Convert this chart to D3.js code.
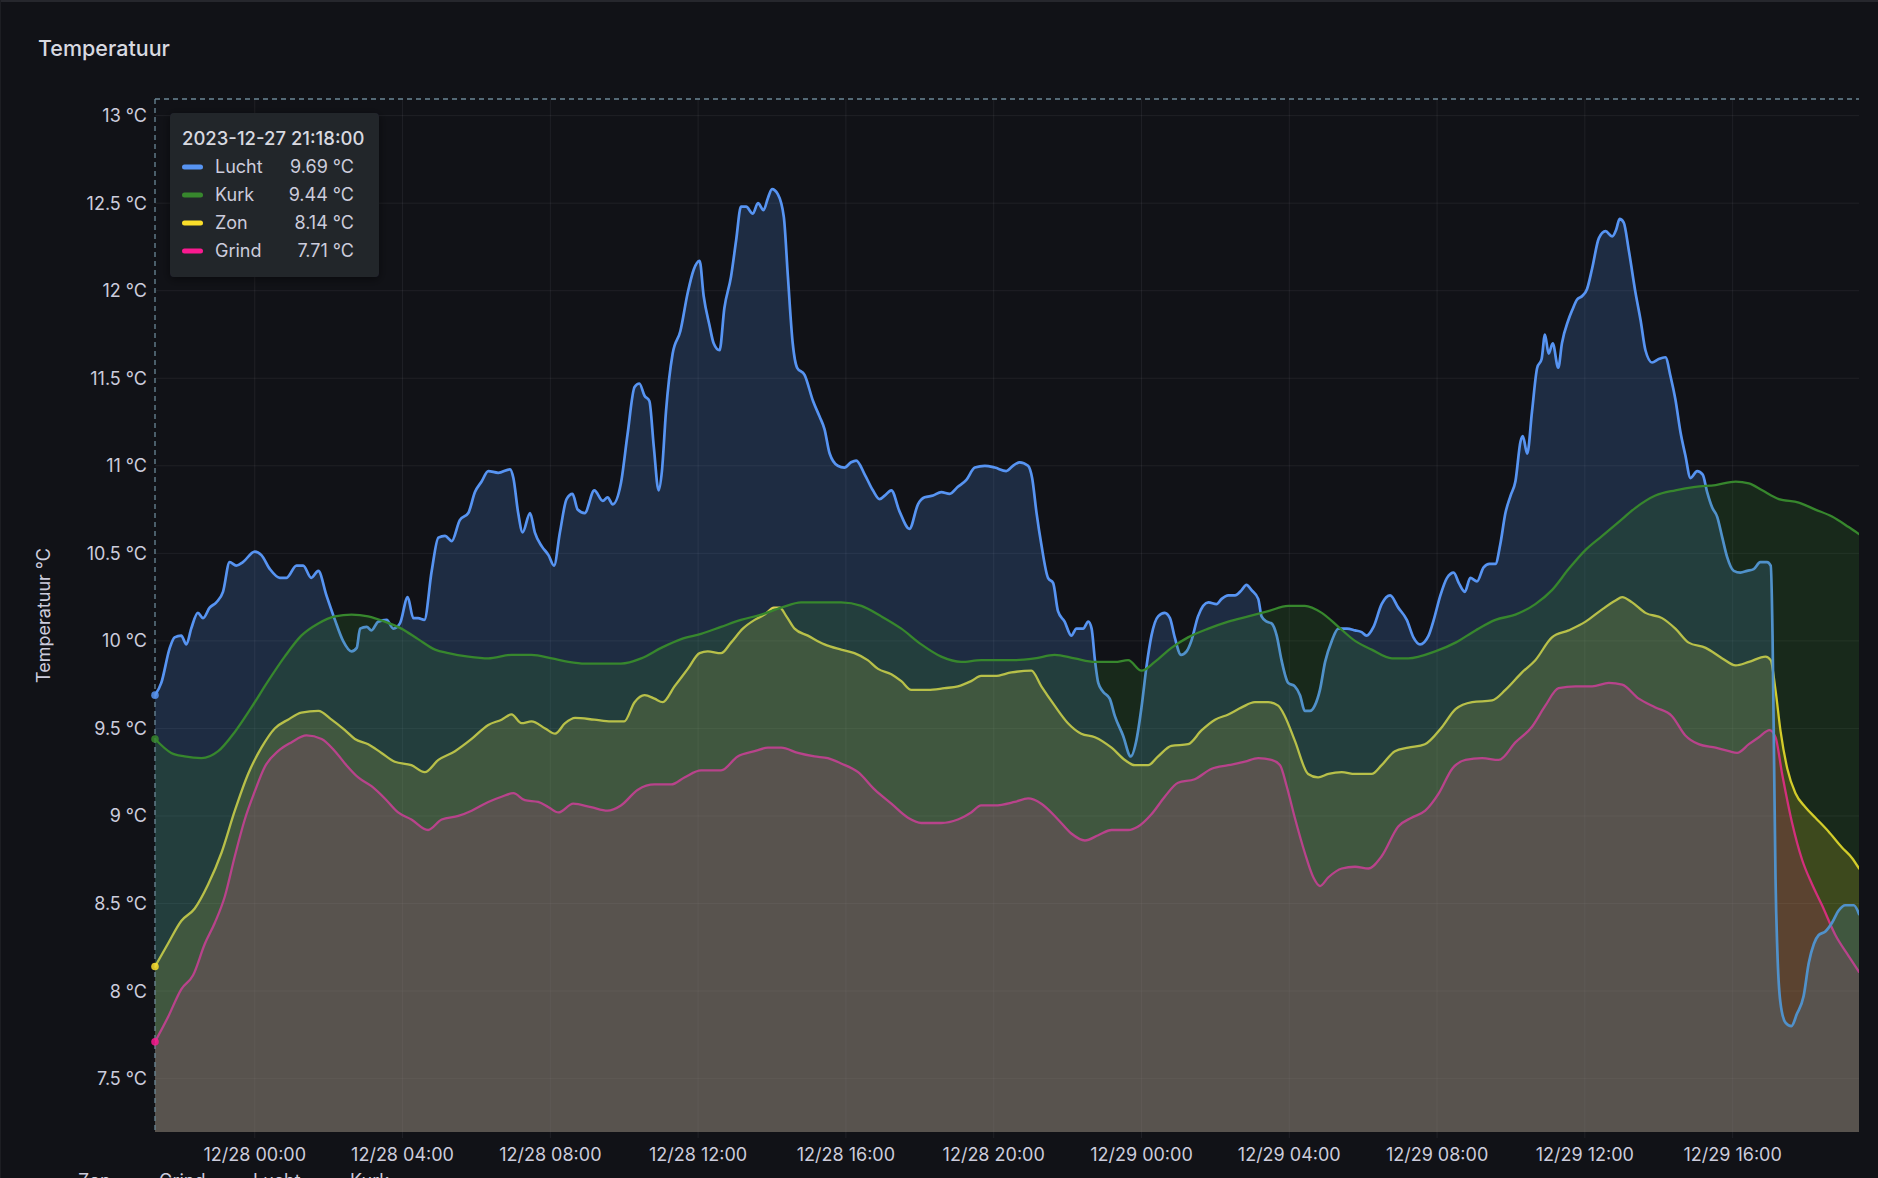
<!DOCTYPE html>
<html>
<head>
<meta charset="utf-8">
<script src="https://cdn.jsdelivr.net/npm/d3@7"></script>
<style>
  html, body { margin: 0; padding: 0; background: #111217; overflow: hidden; }
  svg { display: block; }
  text { font-family: Inter, "Noto Sans", "DejaVu Sans", sans-serif; }
</style>
</head>
<body>
<svg id="chart" width="1878" height="1178"></svg>
<script>
// ---------------- DATA (hours relative to 2023-12-28 00:00) ----------------
const seriesNames = ["Zon", "Grind", "Lucht", "Kurk"];
const tooltipOrder = ["Lucht", "Kurk", "Zon", "Grind"];
const tooltipTime = "2023-12-27 21:18:00";
const startHour = -2.7;     // 12/27 21:18
const endHour = 43.42;      // 12/29 19:25
const yTicks = [7.5, 8, 8.5, 9, 9.5, 10, 10.5, 11, 11.5, 12, 12.5, 13];
const yMin = 7.195, yMax = 13.095;

const luchtHours = [-2.70,-2.53,-2.30,-2.17,-1.99,-1.85,-1.72,-1.54,-1.40,-1.22,-1.04,-0.86,-0.68,-0.50,-0.32,0.00,0.18,0.41,0.68,0.86,1.13,1.31,1.53,1.72,1.94,2.17,2.39,2.62,2.76,2.85,3.03,3.16,3.34,3.57,3.75,3.93,4.14,4.29,4.42,4.59,4.79,4.97,5.15,5.33,5.55,5.78,5.96,6.14,6.32,6.59,6.91,7.00,7.13,7.25,7.45,7.58,7.77,7.95,8.10,8.26,8.44,8.60,8.74,8.93,9.19,9.42,9.55,9.69,9.91,10.09,10.28,10.41,10.55,10.68,10.80,10.93,11.02,11.13,11.31,11.52,11.72,11.88,12.04,12.15,12.31,12.42,12.58,12.71,12.89,13.03,13.16,13.30,13.48,13.62,13.77,13.89,14.00,14.16,14.32,14.43,14.56,14.68,14.88,15.11,15.29,15.42,15.56,15.78,15.96,16.14,16.28,16.51,16.73,16.91,17.05,17.23,17.45,17.72,17.95,18.13,18.36,18.58,18.81,19.03,19.26,19.49,19.76,20.03,20.34,20.52,20.70,20.93,21.04,21.16,21.29,21.47,21.61,21.74,21.92,22.10,22.24,22.42,22.56,22.65,22.74,22.83,22.96,23.14,23.28,23.50,23.71,23.86,24.00,24.14,24.27,24.45,24.63,24.77,24.90,25.07,25.22,25.35,25.53,25.81,26.03,26.17,26.35,26.53,26.71,26.84,26.98,27.16,27.25,27.39,27.52,27.66,27.79,27.97,28.15,28.29,28.42,28.56,28.69,28.83,28.97,29.15,29.33,29.56,29.78,29.96,30.09,30.28,30.50,30.73,30.95,31.18,31.36,31.54,31.77,31.91,32.09,32.27,32.45,32.59,32.75,32.90,33.08,33.26,33.42,33.58,33.71,33.85,33.99,34.12,34.26,34.32,34.44,34.57,34.71,34.83,34.92,35.02,35.13,35.28,35.38,35.55,35.66,35.79,35.93,36.06,36.20,36.38,36.56,36.74,36.85,36.94,37.05,37.19,37.37,37.51,37.64,37.82,38.00,38.18,38.32,38.45,38.59,38.72,38.86,39.04,39.19,39.31,39.45,39.58,39.72,39.85,40.03,40.21,40.39,40.57,40.75,40.93,41.03,41.08,41.12,41.16,41.21,41.29,41.43,41.59,41.74,41.92,42.06,42.20,42.33,42.51,42.69,42.87,43.05,43.28,43.42];
const luchtValues = [9.69,9.76,9.96,10.02,10.03,9.98,10.07,10.16,10.13,10.19,10.22,10.28,10.45,10.43,10.45,10.51,10.49,10.41,10.36,10.36,10.43,10.43,10.36,10.40,10.26,10.12,10.00,9.94,9.96,10.07,10.08,10.06,10.11,10.12,10.07,10.10,10.25,10.13,10.13,10.12,10.40,10.59,10.60,10.57,10.69,10.73,10.85,10.91,10.97,10.96,10.98,10.93,10.73,10.62,10.73,10.62,10.54,10.49,10.43,10.62,10.81,10.84,10.75,10.73,10.86,10.80,10.82,10.78,10.90,11.18,11.45,11.47,11.40,11.37,11.11,10.86,10.97,11.31,11.64,11.77,11.99,12.12,12.17,11.97,11.80,11.70,11.66,11.90,12.08,12.29,12.48,12.48,12.44,12.50,12.46,12.53,12.58,12.55,12.42,12.08,11.70,11.56,11.52,11.37,11.28,11.21,11.07,11.00,10.99,11.02,11.03,10.95,10.86,10.81,10.83,10.86,10.74,10.64,10.78,10.82,10.83,10.85,10.84,10.88,10.92,10.99,11.00,10.99,10.97,11.00,11.02,11.00,10.93,10.73,10.55,10.36,10.33,10.17,10.11,10.03,10.07,10.07,10.11,10.07,9.89,9.76,9.71,9.67,9.57,9.46,9.34,9.43,9.62,9.86,10.03,10.14,10.16,10.13,10.02,9.92,9.94,10.00,10.14,10.22,10.21,10.24,10.26,10.26,10.29,10.32,10.29,10.24,10.14,10.11,10.10,10.03,9.89,9.76,9.74,9.69,9.60,9.60,9.63,9.72,9.88,10.00,10.07,10.07,10.06,10.05,10.03,10.08,10.21,10.26,10.19,10.12,10.02,9.98,10.03,10.12,10.26,10.36,10.39,10.33,10.28,10.36,10.34,10.42,10.44,10.44,10.55,10.73,10.83,10.91,11.14,11.17,11.07,11.31,11.56,11.61,11.75,11.64,11.70,11.56,11.70,11.83,11.89,11.95,11.97,12.01,12.13,12.30,12.34,12.31,12.35,12.41,12.39,12.23,11.99,11.83,11.66,11.59,11.61,11.62,11.51,11.38,11.19,11.06,10.93,10.97,10.95,10.85,10.76,10.71,10.59,10.48,10.40,10.39,10.40,10.41,10.45,10.45,10.43,10.03,9.34,8.65,8.23,7.94,7.82,7.80,7.87,7.97,8.16,8.27,8.32,8.34,8.39,8.46,8.49,8.49,8.44];

const kurkHours = [-2.70,-2.26,-1.90,-1.44,-0.99,-0.54,-0.09,0.36,0.81,1.26,1.72,2.17,2.62,3.07,3.52,3.97,4.42,4.88,5.24,5.78,6.32,6.95,7.49,8.04,8.49,8.94,9.91,10.46,11.00,11.54,12.08,12.62,13.16,13.71,14.25,14.79,15.33,15.87,16.42,16.96,17.50,18.04,18.58,19.12,19.66,20.57,21.11,21.65,22.19,22.74,23.28,23.64,24.00,24.36,24.81,25.26,25.81,26.35,26.89,27.43,27.97,28.42,28.88,29.33,29.78,30.23,30.78,31.22,31.95,32.50,33.04,33.58,34.12,34.66,35.11,35.56,36.02,36.47,36.92,37.37,37.91,38.45,38.99,39.54,40.08,40.44,40.80,41.25,41.79,42.24,42.69,43.14,43.42];
const kurkValues = [9.44,9.36,9.34,9.33,9.37,9.48,9.62,9.77,9.91,10.03,10.10,10.14,10.15,10.14,10.11,10.07,10.01,9.95,9.93,9.91,9.90,9.92,9.92,9.90,9.88,9.87,9.87,9.90,9.96,10.01,10.04,10.08,10.12,10.15,10.19,10.22,10.22,10.22,10.20,10.14,10.07,9.98,9.91,9.88,9.89,9.89,9.90,9.92,9.90,9.88,9.88,9.89,9.83,9.88,9.96,10.02,10.07,10.11,10.14,10.17,10.20,10.20,10.16,10.08,10.00,9.95,9.90,9.90,9.94,9.99,10.06,10.12,10.15,10.21,10.29,10.41,10.52,10.60,10.68,10.76,10.83,10.86,10.88,10.89,10.91,10.90,10.86,10.81,10.79,10.75,10.71,10.65,10.61];

const zonHours = [-2.70,-2.35,-1.99,-1.63,-1.26,-0.90,-0.54,-0.18,0.18,0.54,0.90,1.26,1.72,2.08,2.44,2.71,3.07,3.43,3.79,4.24,4.60,4.97,5.42,5.87,6.32,6.68,6.95,7.22,7.49,7.86,8.13,8.40,8.67,9.19,9.64,10.00,10.28,10.55,10.82,11.04,11.36,11.72,12.04,12.26,12.62,12.89,13.21,13.53,13.80,14.05,14.21,14.39,14.61,14.97,15.42,15.87,16.23,16.59,16.87,17.23,17.50,17.77,18.22,18.67,19.03,19.39,19.66,20.03,20.48,21.02,21.29,21.65,22.01,22.37,22.74,23.19,23.55,23.82,24.18,24.45,24.81,25.26,25.63,25.99,26.35,26.71,27.07,27.43,27.70,27.88,28.15,28.51,28.78,29.06,29.42,29.78,30.23,30.50,30.86,31.22,31.67,32.14,32.50,32.95,33.49,33.85,34.30,34.66,35.11,35.56,36.02,36.47,36.83,37.01,37.28,37.64,38.09,38.45,38.81,39.27,39.72,40.08,40.44,40.89,41.03,41.16,41.30,41.48,41.70,41.97,42.24,42.60,42.96,43.23,43.42];
const zonValues = [8.14,8.27,8.40,8.47,8.61,8.79,9.03,9.24,9.39,9.50,9.55,9.59,9.60,9.55,9.49,9.44,9.41,9.36,9.31,9.29,9.25,9.32,9.37,9.44,9.52,9.55,9.58,9.53,9.54,9.50,9.47,9.53,9.56,9.55,9.54,9.54,9.65,9.69,9.67,9.65,9.74,9.84,9.93,9.94,9.93,9.99,10.07,10.12,10.15,10.19,10.19,10.14,10.07,10.03,9.98,9.95,9.93,9.89,9.84,9.81,9.77,9.72,9.72,9.73,9.74,9.77,9.80,9.80,9.82,9.83,9.74,9.63,9.53,9.47,9.45,9.39,9.32,9.29,9.29,9.34,9.40,9.41,9.49,9.55,9.58,9.62,9.65,9.65,9.63,9.57,9.43,9.24,9.22,9.24,9.25,9.24,9.24,9.29,9.37,9.39,9.41,9.51,9.61,9.65,9.66,9.72,9.82,9.89,10.02,10.06,10.11,10.18,10.23,10.25,10.22,10.16,10.13,10.07,9.99,9.96,9.90,9.86,9.88,9.91,9.89,9.72,9.48,9.27,9.13,9.05,8.99,8.91,8.82,8.76,8.70];

const grindHours = [-2.70,-2.35,-1.99,-1.67,-1.35,-1.08,-0.81,-0.54,-0.27,0.00,0.27,0.63,0.99,1.40,1.81,2.17,2.48,2.80,3.16,3.52,3.88,4.24,4.69,5.06,5.51,5.87,6.32,6.68,7.00,7.31,7.67,7.95,8.22,8.62,9.10,9.55,9.91,10.37,10.82,11.27,11.63,12.08,12.62,13.07,13.53,13.89,14.25,14.70,15.15,15.51,15.87,16.33,16.78,17.23,17.68,18.04,18.58,19.03,19.39,19.66,20.03,20.57,20.93,21.29,21.74,22.10,22.47,22.83,23.19,23.64,23.91,24.27,24.63,24.99,25.44,25.90,26.35,26.80,27.16,27.52,27.75,27.93,28.15,28.42,28.65,28.83,29.06,29.42,29.78,30.14,30.50,30.95,31.31,31.68,32.05,32.41,32.77,33.22,33.67,34.12,34.57,34.93,35.29,35.75,36.20,36.65,37.01,37.46,37.91,38.36,38.72,39.08,39.54,39.90,40.12,40.44,40.71,41.00,41.16,41.34,41.61,41.88,42.15,42.42,42.78,43.14,43.42];
const grindValues = [7.71,7.85,8.01,8.09,8.27,8.39,8.54,8.77,8.98,9.14,9.28,9.37,9.42,9.46,9.44,9.37,9.29,9.22,9.17,9.10,9.02,8.98,8.92,8.98,9.00,9.03,9.08,9.11,9.13,9.09,9.08,9.05,9.02,9.07,9.05,9.03,9.06,9.15,9.18,9.18,9.22,9.26,9.26,9.34,9.37,9.39,9.39,9.36,9.34,9.33,9.30,9.25,9.15,9.07,8.99,8.96,8.96,8.98,9.02,9.06,9.06,9.08,9.10,9.07,8.98,8.90,8.86,8.89,8.92,8.92,8.94,9.01,9.11,9.19,9.21,9.27,9.29,9.31,9.33,9.32,9.29,9.17,8.99,8.79,8.65,8.60,8.65,8.70,8.71,8.70,8.77,8.94,8.99,9.03,9.13,9.27,9.32,9.33,9.32,9.42,9.51,9.63,9.73,9.74,9.74,9.76,9.75,9.67,9.62,9.57,9.46,9.41,9.39,9.37,9.36,9.41,9.45,9.49,9.45,9.24,8.96,8.75,8.61,8.49,8.32,8.20,8.11];

const seriesColors = { Lucht: "#5794F2", Kurk: "#37872D", Zon: "#FADE2A", Grind: "#FA1A90" };

// ---------------- CHART ----------------
const W = 1878, H = 1178;
const M = { left: 155, right: 1859, top: 99, bottom: 1132 };
const BASE = Date.UTC(2023, 11, 28, 0, 0, 0);
const toDate = h => new Date(BASE + h * 3600e3);

const series = {
  Lucht: luchtHours.map((h, i) => ({ t: toDate(h), v: luchtValues[i] })),
  Kurk: kurkHours.map((h, i) => ({ t: toDate(h), v: kurkValues[i] })),
  Zon: zonHours.map((h, i) => ({ t: toDate(h), v: zonValues[i] })),
  Grind: grindHours.map((h, i) => ({ t: toDate(h), v: grindValues[i] }))
};

const x = d3.scaleUtc().domain([toDate(startHour), toDate(endHour)]).range([M.left, M.right]);
const y = d3.scaleLinear().domain([yMin, yMax]).range([M.bottom, M.top]);

const svg = d3.select("#chart");
svg.append("rect").attr("width", W).attr("height", H).attr("fill", "#111217");
// panel border hints
svg.append("rect").attr("x", 0).attr("y", 0).attr("width", W).attr("height", 2).attr("fill", "#26272d");
svg.append("rect").attr("x", 0).attr("y", 0).attr("width", 1).attr("height", H).attr("fill", "#1d1e23");

const defs = svg.append("defs");
defs.append("clipPath").attr("id", "plotclip")
  .append("rect").attr("x", M.left).attr("y", M.top).attr("width", M.right - M.left).attr("height", M.bottom - M.top);
const shadow = defs.append("filter").attr("id", "shadow").attr("x", "-20%").attr("y", "-20%").attr("width", "140%").attr("height", "140%");
shadow.append("feDropShadow").attr("dx", 0).attr("dy", 2).attr("stdDeviation", 5).attr("flood-color", "#000").attr("flood-opacity", 0.5);

// Title
svg.append("text").attr("x", 38).attr("y", 56).attr("fill", "#d8d9e0")
  .attr("font-size", 21.5).attr("font-weight", 500).text("Temperatuur");

// Grid
const grid = svg.append("g");
const xTicks = x.ticks(d3.utcHour.every(4));
grid.selectAll("line.v").data(xTicks).join("line")
  .attr("x1", d => x(d)).attr("x2", d => x(d))
  .attr("y1", M.top).attr("y2", M.bottom + 6)
  .attr("stroke", "rgba(204,204,220,0.08)").attr("stroke-width", 1);
grid.selectAll("line.h").data(yTicks).join("line")
  .attr("x1", M.left).attr("x2", M.right)
  .attr("y1", d => y(d)).attr("y2", d => y(d))
  .attr("stroke", "rgba(204,204,220,0.08)").attr("stroke-width", 1);

// Series: fill + line, in series order
const plot = svg.append("g").attr("clip-path", "url(#plotclip)");
const curve = d3.curveMonotoneX;
seriesNames.forEach(name => {
  const data = series[name];
  const area = d3.area().curve(curve).x(d => x(d.t)).y0(M.bottom).y1(d => y(d.v));
  const line = d3.line().curve(curve).x(d => x(d.t)).y(d => y(d.v));
  plot.append("path").datum(data).attr("d", area)
    .attr("fill", seriesColors[name]).attr("fill-opacity", 0.2);
  plot.append("path").datum(data).attr("d", line)
    .attr("fill", "none").attr("stroke", seriesColors[name])
    .attr("stroke-width", name === "Lucht" ? 2.7 : 2.3)
    .attr("stroke-linejoin", "round").attr("stroke-linecap", "round");
});

// Crosshair (dashed)
svg.append("line").attr("x1", M.left).attr("x2", M.left).attr("y1", M.top).attr("y2", M.bottom)
  .attr("stroke", "#6b8797").attr("stroke-width", 1.3).attr("stroke-dasharray", "5,4");
svg.append("line").attr("x1", M.left).attr("x2", M.right).attr("y1", M.top).attr("y2", M.top)
  .attr("stroke", "#6b8797").attr("stroke-width", 1.3).attr("stroke-dasharray", "5,4");

// Hover points
seriesNames.forEach(name => {
  const d0 = series[name][0];
  svg.append("circle").attr("cx", x(d0.t)).attr("cy", y(d0.v)).attr("r", 3.8)
    .attr("fill", seriesColors[name]).attr("fill-opacity", 0.85);
});

// Y axis labels
svg.append("g").selectAll("text").data(yTicks).join("text")
  .attr("x", 147).attr("y", d => y(d)).attr("dy", "0.36em")
  .attr("text-anchor", "end").attr("fill", "#ccccdc").attr("font-size", 18)
  .text(d => `${d} °C`);
svg.append("text")
  .attr("transform", `translate(44, ${(M.top + M.bottom) / 2}) rotate(-90)`)
  .attr("text-anchor", "middle").attr("dy", "0.35em")
  .attr("fill", "#ccccdc").attr("font-size", 18).text("Temperatuur °C");

// X axis labels
const fmt = d3.utcFormat("%m/%d %H:%M");
svg.append("g").selectAll("text").data(xTicks).join("text")
  .attr("x", d => x(d)).attr("y", 1161).attr("text-anchor", "middle")
  .attr("fill", "#ccccdc").attr("font-size", 18).text(d => fmt(d));

// Bottom legend (cut off by the panel edge, as in the original)
const legendX = { Zon: 78, Grind: 159, Lucht: 253, Kurk: 350 };
seriesNames.forEach(name => {
  svg.append("rect").attr("x", legendX[name] - 26).attr("y", 1184).attr("width", 18).attr("height", 4)
    .attr("rx", 2).attr("fill", seriesColors[name]);
  svg.append("text").attr("x", legendX[name]).attr("y", 1187)
    .attr("fill", "#ccccdc").attr("font-size", 18).text(name);
});

// Tooltip
const tip = svg.append("g");
tip.append("rect").attr("x", 170).attr("y", 113).attr("width", 209).attr("height", 164)
  .attr("rx", 4).attr("fill", "#22252b").attr("filter", "url(#shadow)");
tip.append("text").attr("x", 182).attr("y", 145).attr("fill", "#d8d9e0")
  .attr("font-size", 18.5).attr("font-weight", 500).text(tooltipTime);
const fmtV = d3.format(".2f");
tooltipOrder.forEach((name, i) => {
  const cy = 167 + i * 28;
  const val = series[name][0].v;
  tip.append("rect").attr("x", 182).attr("y", cy - 2.5).attr("width", 21).attr("height", 5)
    .attr("rx", 2.5).attr("fill", seriesColors[name]);
  tip.append("text").attr("x", 215).attr("y", cy).attr("dy", "0.36em")
    .attr("fill", "#ccccdc").attr("font-size", 18).text(name);
  tip.append("text").attr("x", 354).attr("y", cy).attr("dy", "0.36em").attr("text-anchor", "end")
    .attr("fill", "#ccccdc").attr("font-size", 18).text(`${fmtV(val)} °C`);
});
</script>
</body>
</html>
